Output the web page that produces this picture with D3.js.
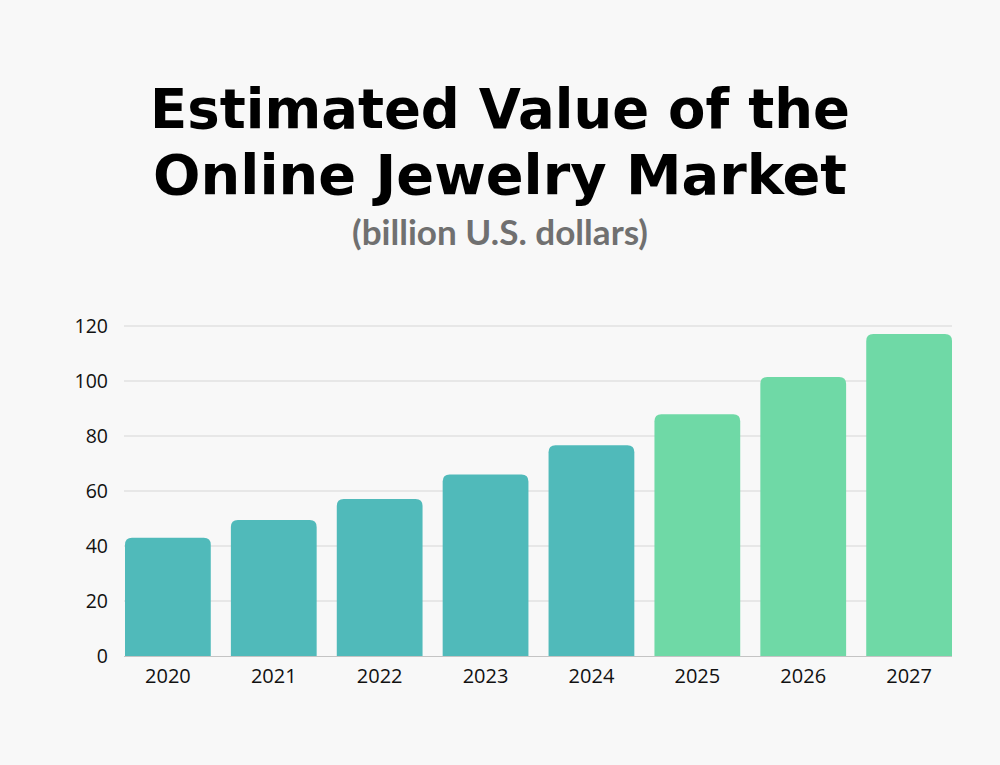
<!DOCTYPE html>
<html><head><meta charset="utf-8">
<script src="https://cdn.jsdelivr.net/npm/d3@7"></script>
<style>html,body{margin:0;padding:0;background:#f8f8f8;}</style>
</head><body>
<svg id="c" width="1000" height="765"></svg>
<script>
const years = ["2020","2021","2022","2023","2024","2025","2026","2027"];
const values = [43, 49.5, 57.1, 66, 76.6, 87.9, 101.5, 117.1];
const projected = [false,false,false,false,false,true,true,true];
const yTicks = [0,20,40,60,80,100,120];
const titleLines = ["Estimated Value of the","Online Jewelry Market"];
const subtitle = "(billion U.S. dollars)";

const svg = d3.select("#c");
svg.append("rect").attr("width",1000).attr("height",765).attr("fill","#f8f8f8");

const x = d3.scaleBand().domain(years).range([125,952]).paddingInner(0.19).paddingOuter(0);
const y = d3.scaleLinear().domain([0,120]).range([656,326]);

// gridlines
svg.append("g").selectAll("line").data(yTicks.filter(d=>d>0)).join("line")
  .attr("x1",124).attr("x2",952).attr("y1",d=>y(d)).attr("y2",d=>y(d))
  .attr("stroke","#d6d6d6").attr("stroke-width",1.2);

// y labels
const yAxis = d3.axisLeft(y).tickValues(yTicks).tickSize(0).tickPadding(0);
const gy = svg.append("g").attr("transform","translate(108,0)").call(yAxis);
gy.select(".domain").remove();
gy.selectAll("text").attr("font-family","Open Sans, Noto Sans, sans-serif").attr("font-size",19.5).attr("fill","#111");

// bars with rounded top
const r = 7;
function barPath(d,i){
  const x0 = x(years[i]), w = x.bandwidth(), y0 = y(d), yb = y(0);
  return `M${x0},${yb}V${y0+r}Q${x0},${y0} ${x0+r},${y0}H${x0+w-r}Q${x0+w},${y0} ${x0+w},${y0+r}V${yb}Z`;
}
svg.append("g").selectAll("path").data(values).join("path")
  .attr("d",barPath).attr("fill",(d,i)=>projected[i]?"#6fd9a6":"#50baba");

// baseline
svg.append("line").attr("x1",124).attr("x2",952).attr("y1",y(0)+0.5).attr("y2",y(0)+0.5)
  .attr("stroke","#c4c4c4").attr("stroke-width",1.2);

// x labels
const xAxis = d3.axisBottom(x).tickSize(0).tickPadding(0);
const gx = svg.append("g").attr("transform","translate(0,669)").call(xAxis);
gx.select(".domain").remove();
gx.selectAll("text").attr("font-family","Open Sans, Noto Sans, sans-serif").attr("font-size",20).attr("fill","#111").attr("dy","0.71em");

// title
const titleBase = [128,194], titleW = [700,694];
const fMax = 56;
titleLines.forEach((t,i)=>{
  const tx = svg.append("text").attr("x",500).attr("y",titleBase[i]).attr("text-anchor","middle")
    .attr("font-family","DejaVu Sans, sans-serif").attr("font-weight",700).attr("font-size",fMax)
    .attr("fill","#000").text(t);
  const w = tx.node().getComputedTextLength();
  if (w > titleW[i]) tx.attr("font-size", fMax*titleW[i]/w);
  else tx.attr("textLength",titleW[i]).attr("lengthAdjust","spacing");
});
const st = svg.append("text").attr("x",500).attr("y",245).attr("text-anchor","middle")
  .attr("font-family","Lato, Open Sans, sans-serif").attr("font-weight",700).attr("font-size",28).attr("fill","#707070").text(subtitle);
const sw = st.node().getComputedTextLength();
st.attr("font-size",28*296/sw);
</script>
</body></html>
